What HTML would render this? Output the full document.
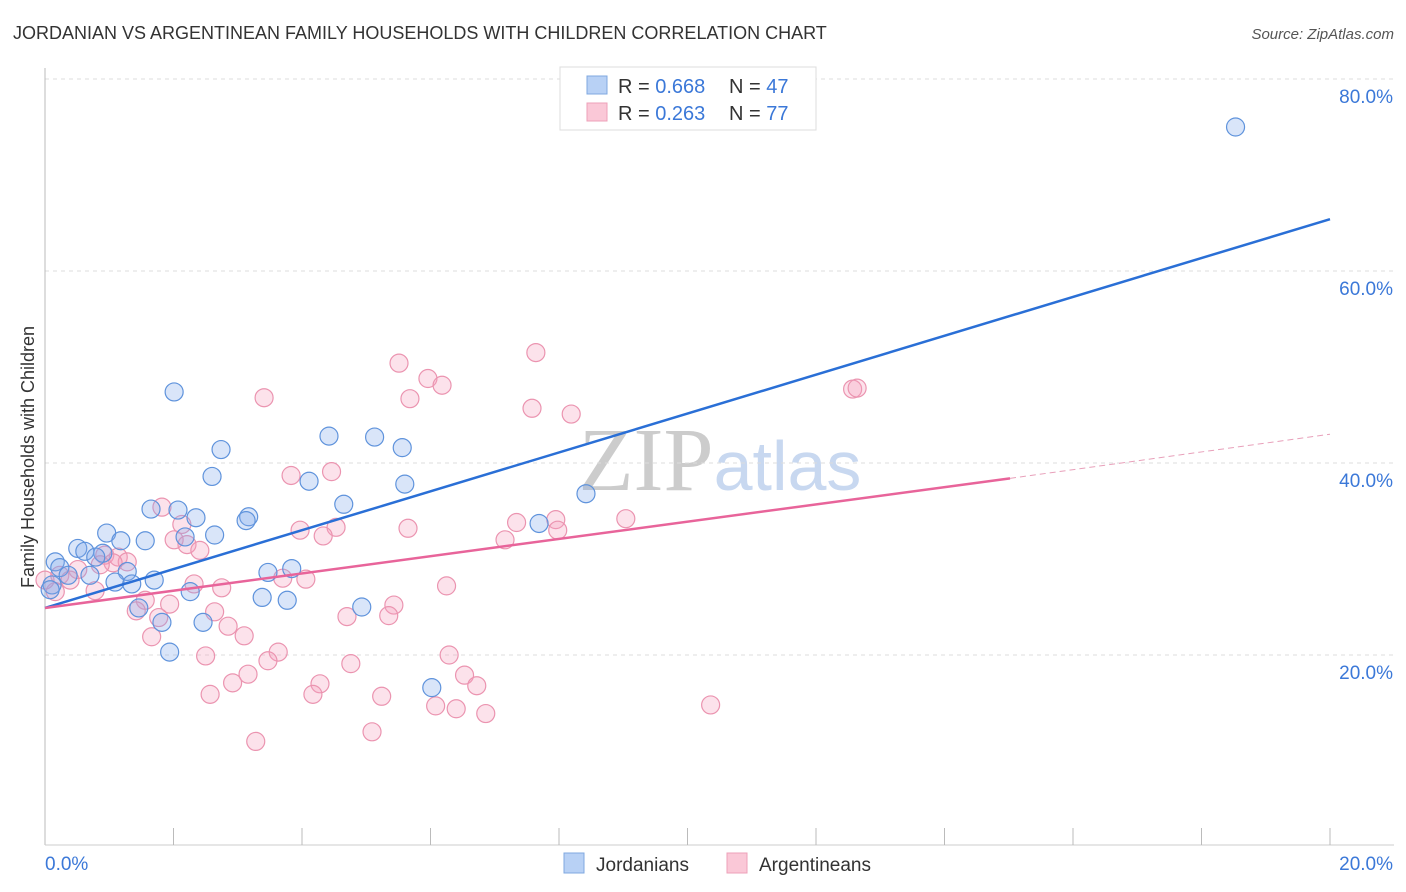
<!DOCTYPE html>
<html><head><meta charset="utf-8"><style>
body{margin:0;background:#fff;font-family:"Liberation Sans",sans-serif;}
svg{display:block}
</style></head><body>
<svg id="chart" width="1406" height="892" xmlns="http://www.w3.org/2000/svg">
<text x="13" y="39" font-size="18" fill="#333">JORDANIAN VS ARGENTINEAN FAMILY HOUSEHOLDS WITH CHILDREN CORRELATION CHART</text>
<text x="1394" y="39" font-size="15" fill="#555" text-anchor="end" font-style="italic">Source: ZipAtlas.com</text>
<text transform="translate(34,457) rotate(-90)" font-size="18" fill="#333" text-anchor="middle">Family Households with Children</text>
<text x="720" y="490" font-size="90" text-anchor="middle" fill="#ddd" font-family="Liberation Serif"><tspan fill="#ccc">ZIP</tspan><tspan fill="#c8d8f0" font-family="Liberation Sans" font-size="70">atlas</tspan></text>
<g id="grid"></g><g id="axes"></g><g id="pts"></g><g id="lines"></g>
<g>
<rect x="560" y="67" width="256" height="63" fill="#fff" stroke="#ddd"/>
<rect x="587" y="76" width="20" height="18" fill="#b8d1f5" stroke="#7fa8e0"/>
<rect x="587" y="103" width="20" height="18" fill="#fac8d7" stroke="#eea0b8"/>
<text x="618" y="93" font-size="20" fill="#333">R = <tspan fill="#3b78d8">0.668</tspan></text>
<text x="729" y="93" font-size="20" fill="#333">N = <tspan fill="#3b78d8">47</tspan></text>
<text x="618" y="120" font-size="20" fill="#333">R = <tspan fill="#3b78d8">0.263</tspan></text>
<text x="729" y="120" font-size="20" fill="#333">N = <tspan fill="#3b78d8">77</tspan></text>
</g>
<g>
<rect x="564" y="853" width="20" height="20" fill="#b8d1f5" stroke="#7fa8e0"/>
<text x="596" y="871" font-size="19" fill="#333">Jordanians</text>
<rect x="727" y="853" width="20" height="20" fill="#fac8d7" stroke="#eea0b8"/>
<text x="759" y="871" font-size="19" fill="#333">Argentineans</text>
</g>
</svg>
<script>
const yTicks=[20,40,60,80];
const yTickLabels=["20.0%","40.0%","60.0%","80.0%"];
const blueX=[18.53,2.01,2.74,4.42,5.13,5.56,2.60,4.11,5.60,8.42,1.65,2.07,4.65,2.35,3.17,3.13,7.69,0.96,1.18,1.56,2.64,2.18,0.51,0.62,0.90,0.79,0.16,0.23,0.36,0.70,1.28,3.47,3.84,1.70,1.09,1.35,0.11,2.26,3.38,3.77,4.93,1.46,1.82,2.46,1.94,6.02,0.08];
const blueY=[75.0,47.4,41.4,42.8,42.7,41.6,38.6,38.1,37.8,36.8,35.2,35.1,35.7,34.3,34.4,34.0,33.7,32.7,31.9,31.9,32.5,32.3,31.1,30.8,30.6,30.2,29.7,29.1,28.3,28.3,28.7,28.6,29.0,27.8,27.6,27.4,27.3,26.6,26.0,25.7,25.0,24.9,23.4,23.4,20.3,16.6,26.8];
const pinkX=[7.64,5.51,5.96,6.18,5.68,3.41,7.58,8.19,12.57,12.64,4.46,3.83,1.82,2.13,7.34,7.95,9.04,3.97,4.53,5.65,7.98,7.16,4.33,2.01,2.21,2.41,0.93,1.14,1.28,1.06,0.86,0.51,0.23,0.39,3.70,4.06,2.32,2.75,6.25,0.78,0.16,0.0,1.56,1.94,5.43,1.42,2.64,5.35,4.70,1.77,2.85,3.10,1.66,3.63,6.29,2.50,3.47,4.76,6.53,3.16,2.92,4.28,6.72,2.57,4.17,5.24,6.08,6.40,10.36,6.86,5.09,3.28];
const pinkY=[51.5,50.4,48.8,48.1,46.7,46.8,45.7,45.1,47.7,47.8,39.1,38.7,35.4,33.6,33.8,34.1,34.2,33.0,33.3,33.2,33.0,32.0,32.4,32.0,31.5,30.9,30.4,30.2,29.7,29.6,29.4,28.9,28.3,27.8,28.0,27.9,27.4,27.0,27.2,26.7,26.6,27.8,25.7,25.3,25.2,24.6,24.5,24.1,24.0,23.9,23.0,22.0,21.9,20.3,20.0,19.9,19.4,19.1,17.9,18.0,17.1,17.0,16.8,15.9,15.9,15.7,14.7,14.4,14.8,13.9,12.0,11.0];
const blueTrend=[24.9,65.4];
const pinkTrend=[24.9,38.4,43.0];
const NS="http://www.w3.org/2000/svg";
const xs=v=>45+v/20*1285, ys=v=>847-v/20*192;
function mk(t,a,p){const e=document.createElementNS(NS,t);for(const k in a)e.setAttribute(k,a[k]);document.getElementById(p).appendChild(e);return e;}
yTicks.forEach((t,i)=>{
 const g=mk('line',{x1:45,x2:1394,y1:ys(t),y2:ys(t),stroke:'#ddd','stroke-dasharray':'4,4'},'grid');
 
 
 const l=mk('text',{x:1393,y:ys(t)+24,'font-size':19,fill:'#3b78d8','text-anchor':'end'},'grid');
 
 
 l.textContent=yTickLabels[i];
});
let a=mk('line',{x1:45,x2:45,y1:68,y2:845,stroke:'#bbb'},'axes');


a=mk('line',{x1:45,x2:1394,y1:845,y2:845,stroke:'#ccc'},'axes');


for(let i=1;i<=10;i++){const t=mk('line',{x1:xs(i*2),x2:xs(i*2),y1:828,y2:845,stroke:'#bbb'},'axes');
 
 }
let t0=mk('text',{x:45,y:870,'font-size':19,fill:'#3b78d8'},'axes');t0.textContent='0.0%';


t0=mk('text',{x:1393,y:870,'font-size':19,fill:'#3b78d8','text-anchor':'end'},'axes');t0.textContent='20.0%';


pinkX.forEach((x,i)=>{const c=mk('circle',{cx:xs(x),cy:ys(pinkY[i]),r:9,fill:'rgba(244,160,188,0.3)',stroke:'#eb94b0','stroke-width':1.2},'pts');
 
 });
blueX.forEach((x,i)=>{const c=mk('circle',{cx:xs(x),cy:ys(blueY[i]),r:9,fill:'rgba(130,170,235,0.3)',stroke:'#5f93dc','stroke-width':1.2},'pts');
 
 });
let ln=mk('line',{x1:xs(0),y1:ys(blueTrend[0]),x2:xs(20),y2:ys(blueTrend[1]),stroke:'#2a6fd6','stroke-width':2.5},'lines');


ln=mk('line',{x1:xs(0),y1:ys(pinkTrend[0]),x2:xs(15.02),y2:ys(pinkTrend[1]),stroke:'#e8649a','stroke-width':2.5},'lines');


ln=mk('line',{x1:xs(15.02),y1:ys(pinkTrend[1]),x2:xs(20),y2:ys(pinkTrend[2]),stroke:'#e8a0ba','stroke-width':1,'stroke-dasharray':'6,4'},'lines');


</script>
</body></html>
